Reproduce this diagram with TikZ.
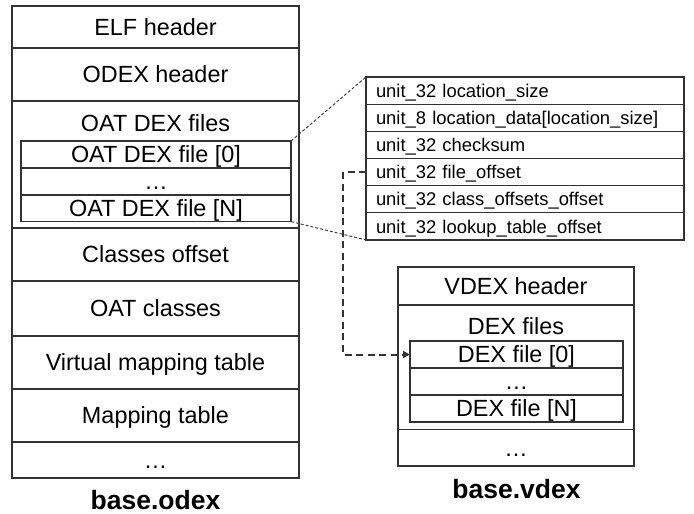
\documentclass[tikz,border=0pt]{standalone}
\usepackage{fontspec}
\setmainfont{Liberation Sans}
\usetikzlibrary{arrows.meta}
\definecolor{linec}{HTML}{333333}
\begin{document}
\begin{tikzpicture}[x=1pt,y=-1pt,
  cell/.style={draw=linec, line width=1.2pt, inner sep=0pt, outer sep=0pt, anchor=north west,
    font=\fontsize{23.4}{28}\selectfont, text height=21.7pt, text depth=4.9pt},
  bigtxt/.style={inner sep=0pt, font=\fontsize{23.4}{28}\selectfont, text height=21.7pt, text depth=4.9pt},
  field/.style={draw=linec, line width=1.2pt, inner xsep=10pt, inner ysep=0pt, outer sep=0pt, anchor=north west,
    text width=298pt, align=left, minimum height=27.17pt,
    font=\fontsize{18.4}{21}\selectfont, text height=17pt, text depth=3.8pt},
  lbl/.style={inner sep=0pt, font=\fontsize{26.5}{30}\selectfont\bfseries},
  zoomline/.style={draw=linec, line width=0.9pt, dash pattern=on 3pt off 2pt},
  ptr/.style={draw=linec, line width=2pt, dash pattern=on 7pt off 4.5pt,
    -{Triangle[length=7pt,width=7pt]}}
]
\useasboundingbox (0,0) rectangle (694,514);

% base.odex
\node[cell, minimum width=287pt, minimum height=42pt] (elf) at (12,6) {ELF header};
\node[cell, minimum width=287pt, minimum height=53pt] (odexh) at (12,48) {ODEX header};
\node[cell, minimum width=287pt, minimum height=127pt] (oatdex) at (12,101) {};
\node[bigtxt] (oatdext) at (155.5,123.5) {OAT DEX files};
\node[cell, minimum width=270pt, minimum height=27pt] (od0) at (21,141) {OAT DEX file [0]};
\node[cell, minimum width=270pt, minimum height=27pt] (odd) at (21,168) {…};
\node[cell, minimum width=270pt, minimum height=26pt] (odn) at (21,195) {OAT DEX file [N]};
\node[cell, minimum width=287pt, minimum height=53pt] (clso) at (12,228) {Classes offset};
\node[cell, minimum width=287pt, minimum height=55pt] (oatc) at (12,281) {OAT classes};
\node[cell, minimum width=287pt, minimum height=53pt] (vmt) at (12,336) {Virtual mapping table};
\node[cell, minimum width=287pt, minimum height=53pt] (mt) at (12,389) {Mapping table};
\node[cell, minimum width=287pt, minimum height=36pt] (odots) at (12,442) {…};
\node[lbl] (odexlbl) at (155.5,500) {base.odex};

% OAT DEX file fields
\node[field] (f1) at (366,77) {unit\_32 location\_size};
\node[field] (f2) at (366,104.17) {unit\_8 location\_data[location\_size]};
\node[field] (f3) at (366,131.33) {unit\_32 checksum};
\node[field] (f4) at (366,158.5) {unit\_32 file\_offset};
\node[field] (f5) at (366,185.67) {unit\_32 class\_offsets\_offset};
\node[field] (f6) at (366,212.83) {unit\_32 lookup\_table\_offset};

% base.vdex
\node[cell, minimum width=236pt, minimum height=38pt] (vh) at (398,267) {VDEX header};
\node[cell, minimum width=236pt, minimum height=124.5pt] (df) at (398,305) {};
\node[bigtxt] (dft) at (516,326.5) {DEX files};
\node[cell, minimum width=213pt, minimum height=27pt] (d0) at (410,341) {DEX file [0]};
\node[cell, minimum width=213pt, minimum height=27pt] (dd) at (410,368) {…};
\node[cell, minimum width=213pt, minimum height=27pt] (dn) at (410,395) {DEX file [N]};
\node[cell, minimum width=236pt, minimum height=36.5pt] (vdots) at (398,429.5) {…};
\node[lbl] (vdexlbl) at (516.5,489) {base.vdex};

% connectors
\draw[zoomline] (od0.north east) -- (f1.north west);
\draw[zoomline] (odn.south east) -- (f6.south west);
\draw[ptr] (f4.west) -- ++(-23,0) |- (d0.west);
\end{tikzpicture}
\end{document}
